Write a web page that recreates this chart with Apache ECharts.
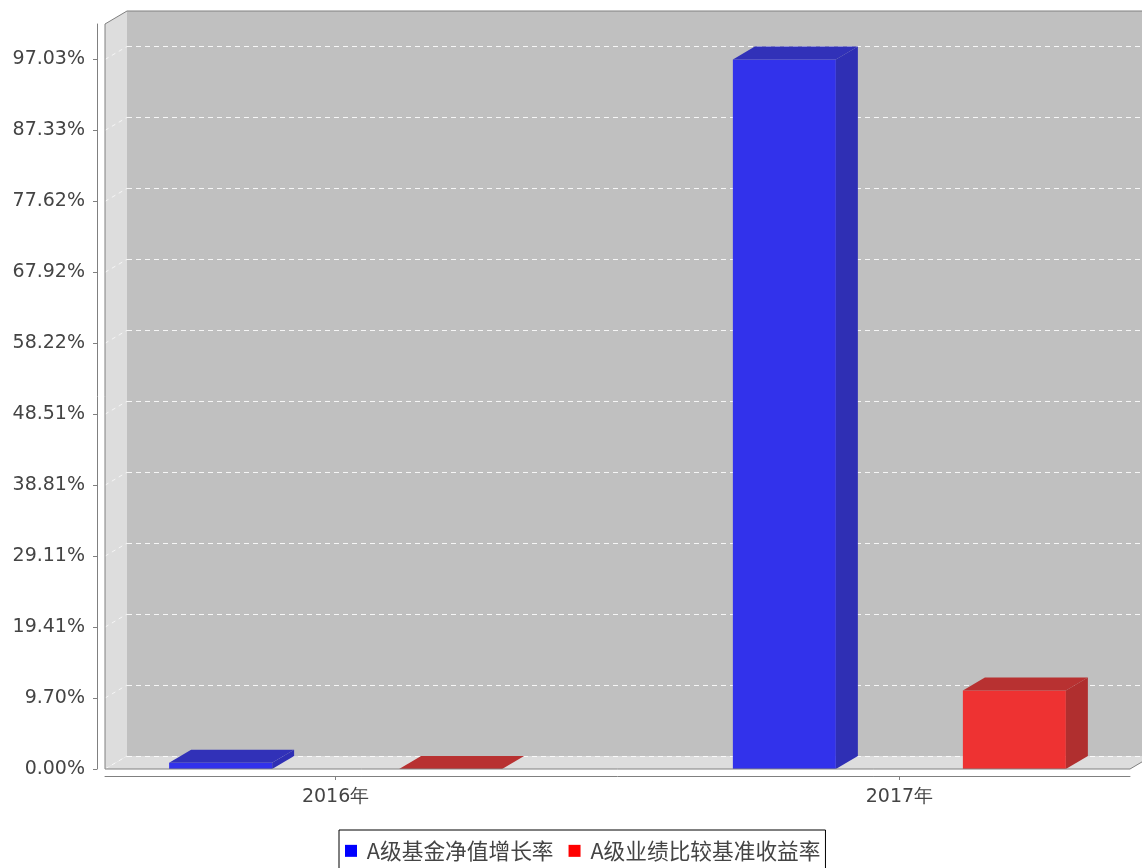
<!DOCTYPE html>
<html>
<head>
<meta charset="utf-8">
<script src="https://cdn.jsdelivr.net/npm/echarts@6/dist/echarts.min.js"></script>
<style>
html,body{margin:0;padding:0;background:#fff;}
#chart{width:1142px;height:868px;}
</style>
</head>
<body>
<div id="chart"></div>
<script>
// ---- data ----
const categories = ['2016年', '2017年'];
const seriesNames = ['A级基金净值增长率', 'A级业绩比较基准收益率'];
const fundGrowth = [0.85, 97.03];
const benchmarkReturn = [0, 10.75];
const yTickValues = [0, 9.7029, 19.4058, 29.1087, 38.8116, 48.5145, 58.2174, 67.9203, 77.6232, 87.3261, 97.029];
const yTickLabels = ['0.00%', '9.70%', '19.41%', '29.11%', '38.81%', '48.51%', '58.22%', '67.92%', '77.62%', '87.33%', '97.03%'];
const yMax = 101.88;

// ---- layout / style ----
const W = 1142, H = 868;
const G = { left: 105, right: 12, top: 24, bottom: 99 };
const DX = 22, DY = 13;
const FL = G.left, FR = W - G.right, FT = G.top, FB = H - G.bottom;
const xMin = -0.40909, xMax = 1.40909;
const barW = 0.1827, barOff = 0.204;
const faceColors = [
  { front: '#3232eb', top: '#3131b8', side: '#2f2fb4', legend: '#0000ff' },
  { front: '#ee3232', top: '#b83131', side: '#b02f2f', legend: '#ff0000' }
];
const textColor = '#444';
const fontFamily = 'DejaVu Sans, sans-serif';

function labelFor(v) {
  for (let i = 0; i < yTickValues.length; i++) {
    if (Math.abs(yTickValues[i] - v) < 1e-6) return yTickLabels[i];
  }
  return '';
}

function barRenderer(seriesIdx) {
  const col = faceColors[seriesIdx];
  const off = seriesIdx === 0 ? -barOff : barOff;
  return function (params, api) {
    const c = api.value(0), v = api.value(1);
    const p0 = api.coord([c + off - barW / 2, 0]);
    const p1 = api.coord([c + off + barW / 2, v]);
    const x0 = p0[0], x1 = p1[0], yB = p0[1], yT = p1[1];
    return {
      type: 'group',
      children: [
        { type: 'rect', shape: { x: x0, y: yT, width: x1 - x0, height: yB - yT }, style: { fill: col.front } },
        { type: 'polygon', shape: { points: [[x0, yT], [x0 + DX, yT - DY], [x1 + DX, yT - DY], [x1, yT]] }, style: { fill: col.top } },
        { type: 'polygon', shape: { points: [[x1, yT], [x1 + DX, yT - DY], [x1 + DX, yB - DY], [x1, yB]] }, style: { fill: col.side } }
      ]
    };
  };
}

function wallLineRenderer(params, api) {
  const p = api.coord([xMin, api.value(0)]);
  return {
    type: 'line',
    shape: { x1: p[0], y1: p[1], x2: p[0] + DX, y2: p[1] - DY },
    style: { stroke: 'rgba(255,255,255,0.7)', lineWidth: 1, lineDash: [4, 4] }
  };
}

const chart = echarts.init(document.getElementById('chart'), null, { renderer: 'canvas' });

const option = {
  backgroundColor: '#ffffff',
  animation: false,
  textStyle: { fontFamily: fontFamily },
  grid: [
    { left: G.left, right: G.right, top: G.top, bottom: G.bottom, containLabel: false },
    { left: G.left + DX, right: G.right - DX, top: G.top - DY, bottom: G.bottom + DY, show: true, backgroundColor: '#c0c0c0', borderWidth: 0 }
  ],
  xAxis: [
    {
      type: 'value', gridIndex: 0, min: xMin, max: xMax, offset: 7,
      axisLine: { show: true, onZero: false, lineStyle: { color: '#808080', width: 1 } },
      axisTick: { show: true, length: 4, customValues: [0, 1], lineStyle: { color: '#808080' } },
      axisLabel: {
        show: true, customValues: [0, 1], margin: 12, color: textColor, fontSize: 19, fontFamily: fontFamily,
        formatter: function (v) { return categories[Math.round(v)] || ''; }
      },
      splitLine: { show: false }
    },
    {
      type: 'value', gridIndex: 1, min: xMin, max: xMax, show: false
    }
  ],
  yAxis: [
    {
      type: 'value', gridIndex: 0, min: 0, max: yMax, offset: 8,
      axisLine: { show: true, onZero: false, lineStyle: { color: '#808080', width: 1 } },
      axisTick: { show: true, length: 4, customValues: yTickValues, lineStyle: { color: '#808080' } },
      axisLabel: { show: true, customValues: yTickValues, margin: 12, color: textColor, fontSize: 19, fontFamily: fontFamily, formatter: labelFor },
      splitLine: { show: false }
    },
    {
      type: 'value', gridIndex: 1, min: 0, max: yMax,
      axisLine: { show: false, onZero: false },
      axisTick: { show: false, customValues: yTickValues },
      axisLabel: { show: false, customValues: yTickValues },
      splitLine: { show: true, lineStyle: { color: 'rgba(255,255,255,0.85)', width: 1, type: [5, 4] } }
    }
  ],
  legend: {
    data: seriesNames,
    left: 339, top: 830,
    orient: 'horizontal',
    backgroundColor: '#ffffff',
    borderColor: '#000000', borderWidth: 1, borderRadius: 0,
    padding: [10, 5, 14, 6],
    itemWidth: 12, itemHeight: 12, itemGap: 15,
    icon: 'rect',
    formatter: function (name) { return ' ' + name; },
    textStyle: { color: textColor, fontSize: 21.7, fontFamily: 'Noto Sans CJK SC, sans-serif' }
  },
  graphic: [
    { type: 'polygon', z: 0, shape: { points: [[FL, FT], [FL + DX, FT - DY], [FL + DX, FB - DY], [FL, FB]] }, style: { fill: '#dddddd' } },
    { type: 'polygon', z: 0, shape: { points: [[FL, FB], [FL + DX, FB - DY], [FR + DX, FB - DY], [FR, FB]] }, style: { fill: '#dddddd' } },
    { type: 'polyline', z: 5, shape: { points: [[FL, FB], [FL, FT], [FL + DX, FT - DY], [FR + DX, FT - DY]] }, style: { stroke: '#808080', lineWidth: 1, fill: null } },
    { type: 'polyline', z: 5, shape: { points: [[FL, FB], [FR, FB], [FR + DX, FB - DY]] }, style: { stroke: '#808080', lineWidth: 1, fill: null } }
  ],
  series: [
    {
      name: 'wallGrid', type: 'custom', xAxisIndex: 0, yAxisIndex: 0, z: 1, silent: true,
      renderItem: wallLineRenderer,
      data: yTickValues.map(function (v) { return [v]; }),
      encode: { y: 0 }, clip: false
    },
    {
      name: seriesNames[0], type: 'custom', xAxisIndex: 0, yAxisIndex: 0, z: 3,
      itemStyle: { color: faceColors[0].legend },
      renderItem: barRenderer(0),
      data: fundGrowth.map(function (v, i) { return [i, v]; }),
      encode: { x: 0, y: 1 }, clip: false
    },
    {
      name: seriesNames[1], type: 'custom', xAxisIndex: 0, yAxisIndex: 0, z: 3,
      itemStyle: { color: faceColors[1].legend },
      renderItem: barRenderer(1),
      data: benchmarkReturn.map(function (v, i) { return [i, v]; }),
      encode: { x: 0, y: 1 }, clip: false
    }
  ]
};

chart.setOption(option);
</script>
</body>
</html>
